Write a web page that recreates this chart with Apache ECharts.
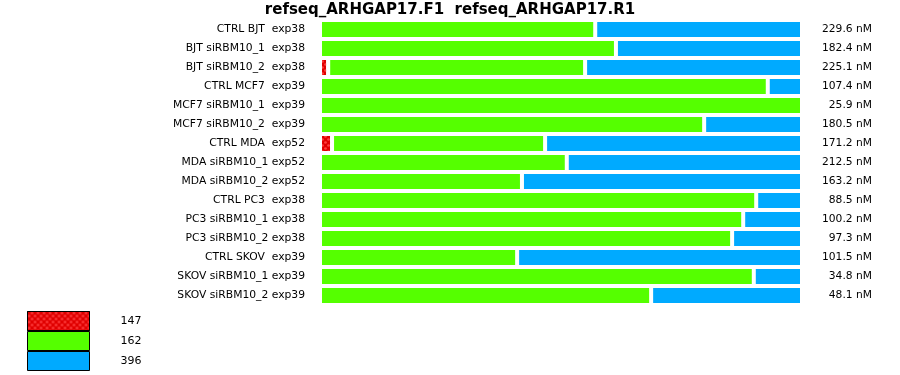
<!DOCTYPE html>
<html><head><meta charset="utf-8">
<script src="https://cdn.jsdelivr.net/npm/echarts@6/dist/echarts.min.js"></script>
<style>html,body{margin:0;padding:0;background:#fff}#c{width:900px;height:375px}</style>
</head><body><div id="c"></div>
<script>
const titleText = 'refseq_ARHGAP17.F1  refseq_ARHGAP17.R1';
const categories = ['CTRL BJT  exp38','BJT siRBM10_1  exp38','BJT siRBM10_2  exp38','CTRL MCF7  exp39','MCF7 siRBM10_1  exp39','MCF7 siRBM10_2  exp39','CTRL MDA  exp52','MDA siRBM10_1 exp52','MDA siRBM10_2 exp52','CTRL PC3  exp38','PC3 siRBM10_1 exp38','PC3 siRBM10_2 exp38','CTRL SKOV  exp39','SKOV siRBM10_1 exp39','SKOV siRBM10_2 exp39'];
const concLabels = ['229.6 nM','182.4 nM','225.1 nM','107.4 nM','25.9 nM','180.5 nM','171.2 nM','212.5 nM','163.2 nM','88.5 nM','100.2 nM','97.3 nM','101.5 nM','34.8 nM','48.1 nM'];
const seriesNames = ['147','162','396'];
const vals147 = [0,0,1.7,0,0,0,2.5,0,0,0,0,0,0,0,0];
const vals162 = [57.1,61.4,53.3,92.9,100,79.7,44.2,51.2,41.9,90.5,87.8,85.5,40.9,90.0,68.7];
const vals396 = [42.9,38.6,45.0,7.1,0,20.3,53.3,48.8,58.1,9.5,12.2,14.5,59.1,10.0,31.3];

const colors = ['#e00000','#55ff00','#00aaff'];
const font = 'DejaVu Sans, Verdana, sans-serif';
const chart = echarts.init(document.getElementById('c'), null, {renderer:'canvas'});
const mk = (name, data, color, decal) => ({
  name, type:'bar', stack:'s', data, barWidth:19,
  itemStyle:Object.assign({color, borderColor:'#fff', borderWidth:2}, decal?{decal}:{}),
  emphasis:{disabled:true}
});
const redDecal = {symbol:'circle', symbolSize:0.9, color:'#ff4040', dashArrayX:[[3,3],[0,3,3,0]], dashArrayY:[3,0], rotation:0};
chart.setOption({
  animation:false,
  title:{text:titleText, left:'center', top:-2, textStyle:{fontFamily:font, fontSize:15, fontWeight:'bold', color:'#000'}},
  grid:{left:320, right:98, top:20, bottom:70, containLabel:false},
  xAxis:{type:'value', min:0, max:100, show:false},
  yAxis:[
    {type:'category', inverse:true, data:categories, axisLine:{show:false}, axisTick:{show:false},
     axisLabel:{margin:15, fontFamily:font, fontSize:10.75, color:'#000'}},
    {type:'category', inverse:true, position:'right', data:concLabels, axisLine:{show:false}, axisTick:{show:false},
     axisLabel:{margin:70, align:'right', fontFamily:font, fontSize:10.7, color:'#000'}}
  ],
  legend:{orient:'vertical', left:27, top:311, height:70, padding:0, icon:'rect', itemWidth:62, itemHeight:19, itemGap:0,
    data:seriesNames, selectedMode:false,
    itemStyle:{borderColor:'#000', borderWidth:1},
    textStyle:{fontFamily:font, fontSize:11, color:'#000', padding:[0,0,0,26]}},
  series:[mk(seriesNames[0], vals147, colors[0], redDecal), mk(seriesNames[1], vals162, colors[1]), mk(seriesNames[2], vals396, colors[2])]
});
</script></body></html>
